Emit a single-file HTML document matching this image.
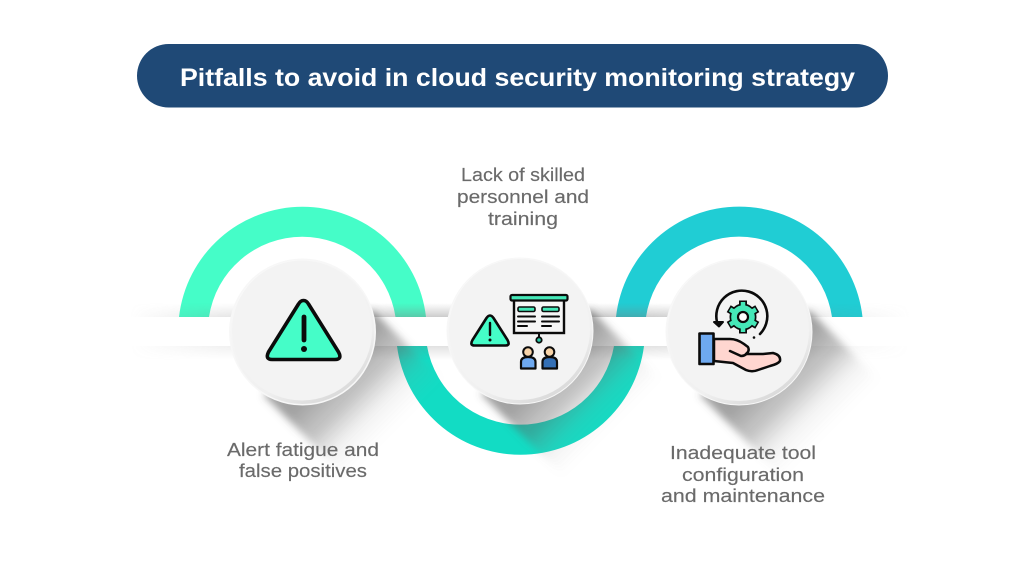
<!DOCTYPE html>
<html><head><meta charset="utf-8"><style>
html,body{margin:0;padding:0;background:#fff;width:1024px;height:572px;overflow:hidden}
svg{display:block}
text{font-family:"Liberation Sans",sans-serif}
.l{font-size:18px;fill:#6a6a6a;text-anchor:middle;stroke:#6a6a6a;stroke-width:.15}
</style></head><body>
<svg width="1024" height="572" viewBox="0 0 1024 572" xmlns="http://www.w3.org/2000/svg">
<defs>
<linearGradient id="ls" gradientUnits="userSpaceOnUse" x1="35" y1="35" x2="94" y2="94">
<stop offset="0" stop-color="#555" stop-opacity=".55"/><stop offset=".4" stop-color="#666" stop-opacity=".36"/><stop offset=".7" stop-color="#888" stop-opacity=".1"/><stop offset="1" stop-color="#999" stop-opacity="0"/></linearGradient>
<linearGradient id="up" x1="0" y1="0" x2="0" y2="1"><stop offset="0" stop-color="#888" stop-opacity="0"/><stop offset="1" stop-color="#777" stop-opacity=".38"/></linearGradient>
<linearGradient id="dn" x1="0" y1="0" x2="0" y2="1"><stop offset="0" stop-color="#777" stop-opacity=".22"/><stop offset="1" stop-color="#888" stop-opacity="0"/></linearGradient>
<linearGradient id="fade" gradientUnits="userSpaceOnUse" x1="130" y1="0" x2="910" y2="0">
<stop offset="0" stop-color="#000"/><stop offset=".12" stop-color="#777"/><stop offset=".35" stop-color="#fff"/><stop offset=".65" stop-color="#fff"/><stop offset=".85" stop-color="#666"/><stop offset="1" stop-color="#000"/></linearGradient>
<mask id="m" maskUnits="userSpaceOnUse" x="0" y="290" width="1024" height="80"><rect x="0" y="290" width="1024" height="80" fill="url(#fade)"/></mask>
<filter id="b" x="-30%" y="-30%" width="160%" height="160%"><feGaussianBlur stdDeviation="4"/></filter>
<linearGradient id="rim" x1="0.2" y1="0" x2="0.8" y2="1"><stop offset="0" stop-color="#fafafa"/><stop offset=".7" stop-color="#f0f0f0"/><stop offset="1" stop-color="#d4d4d4"/></linearGradient>
</defs>

<!-- title -->
<rect x="137" y="44" width="751" height="63.500" rx="31.700" fill="#1f4976"/>
<text x="180" y="86" font-size="25" font-weight="700" fill="#fff" textLength="675" lengthAdjust="spacingAndGlyphs">Pitfalls to avoid in cloud security monitoring strategy</text>

<!-- arcs -->
<path d="M179 317 A124.300 124.300 0 0 1 426 317 L395.500 317 A94.300 94.300 0 0 0 209 317 Z" fill="#45fdc8"/>
<path d="M616 317 A124 124 0 0 1 862.500 317 L832 317 A94 94 0 0 0 646 317 Z" fill="#20cdd4"/>
<path d="M397 346 A124.500 124.500 0 0 0 644 346 L614 346 A94.900 94.900 0 0 1 427 346 Z" fill="#12dcc4"/>

<!-- band -->
<rect x="0" y="317" width="1024" height="29" fill="#fff"/>
<g mask="url(#m)">
<rect x="130" y="303" width="780" height="14" fill="url(#up)"/>
<rect x="130" y="346" width="780" height="14" fill="url(#dn)"/>
</g>

<!-- long shadows -->
<g filter="url(#b)">
<polygon transform="translate(302.500 332)" points="70,-22 -39,63 56,158 165,73" fill="url(#ls)"/>
<polygon transform="translate(520 331)" points="70,-22 -39,63 56,158 165,73" fill="url(#ls)"/>
<polygon transform="translate(739 332)" points="70,-22 -39,63 56,158 165,73" fill="url(#ls)"/>
</g>

<!-- circles -->
<g>
<circle cx="302.500" cy="332" r="73.500" fill="#f7f7f7"/>
<circle cx="302.500" cy="332" r="72" fill="url(#rim)"/>
<circle cx="302" cy="330.500" r="70" fill="#f3f3f3"/>
<circle cx="520" cy="331" r="73.500" fill="#f7f7f7"/>
<circle cx="520" cy="331" r="72.500" fill="url(#rim)"/>
<circle cx="519.500" cy="329.500" r="70.500" fill="#f3f3f3"/>
<circle cx="739" cy="332" r="73.500" fill="#f7f7f7"/>
<circle cx="739" cy="332" r="72.500" fill="url(#rim)"/>
<circle cx="738.500" cy="330.500" r="70.500" fill="#f3f3f3"/>
</g>

<!-- icon 1 -->
<path d="M303.500 300.500 Q306.500 300.500 308.500 304 L338.500 352 Q342.500 359.500 335 359.500 L272 359.500 Q265 359.500 268.500 352 L298.500 304 Q300.500 300.500 303.500 300.500 Z" fill="#45fdc8" stroke="#0b0b0b" stroke-width="3.600" stroke-linejoin="round"/>
<line x1="304" y1="317" x2="304" y2="340" stroke="#0b0b0b" stroke-width="4.800" stroke-linecap="round"/>
<circle cx="304" cy="349" r="3" fill="#0b0b0b"/>

<!-- icon 2 -->
<path d="M490 315.500 Q491.800 315.500 493.500 318 L507.500 340 Q510.500 345.500 505.500 345.500 L474.500 345.500 Q469.500 345.500 472.500 340 L486.500 318 Q488.200 315.500 490 315.500 Z" fill="#45fdc8" stroke="#0b0b0b" stroke-width="2.600" stroke-linejoin="round"/>
<line x1="490" y1="323" x2="490" y2="335" stroke="#0b0b0b" stroke-width="2.400" stroke-linecap="round"/>
<circle cx="490" cy="340" r="1.500" fill="#0b0b0b"/>
<rect x="514" y="300" width="50" height="33" fill="#f6f6f6" stroke="#0b0b0b" stroke-width="2.400"/>
<rect x="510.500" y="295" width="57" height="5.500" rx="1.500" fill="#45e8b8" stroke="#0b0b0b" stroke-width="2.200"/>
<rect x="518" y="307" width="17" height="4.500" rx="1.500" fill="#45e8b8" stroke="#0b0b0b" stroke-width="1.600"/>
<rect x="542" y="307" width="17" height="4.500" rx="1.500" fill="#45e8b8" stroke="#0b0b0b" stroke-width="1.600"/>
<g stroke="#0b0b0b" stroke-width="2" stroke-linecap="round">
<line x1="518" y1="316.500" x2="535" y2="316.500"/><line x1="518" y1="321.500" x2="535" y2="321.500"/><line x1="518" y1="326" x2="527" y2="326"/>
<line x1="542" y1="316.500" x2="559" y2="316.500"/><line x1="542" y1="321.500" x2="559" y2="321.500"/><line x1="542" y1="326" x2="551" y2="326"/>
<line x1="539" y1="333" x2="539" y2="337"/></g>
<circle cx="539" cy="340" r="2.700" fill="#2dc9a8" stroke="#0b0b0b" stroke-width="1.800"/>
<path d="M521 368.500 V362 Q521 357 528 357 Q535.500 357 535.500 362 V368.500 Z" fill="#6ea9f0" stroke="#0b0b0b" stroke-width="2.200" stroke-linejoin="round"/>
<circle cx="528" cy="352" r="4.800" fill="#f7d3a8" stroke="#0b0b0b" stroke-width="2"/>
<path d="M542.500 368.500 V362 Q542.500 357 549.500 357 Q557 357 557 362 V368.500 Z" fill="#336fb5" stroke="#0b0b0b" stroke-width="2.200" stroke-linejoin="round"/>
<circle cx="549.500" cy="352" r="4.800" fill="#f7d3a8" stroke="#0b0b0b" stroke-width="2"/>

<!-- icon 3 -->
<path d="M717 322 A25.500 25.500 0 1 1 760 334" fill="none" stroke="#0b0b0b" stroke-width="2.600" stroke-linecap="round"/>
<path d="M714 322 L723 322 L719 326.500 Z" fill="#0b0b0b" stroke="#0b0b0b" stroke-width="2" stroke-linejoin="round"/>
<circle cx="754" cy="337.500" r="1.300" fill="#0b0b0b"/>
<g stroke="#0b0b0b" stroke-width="8"><line x1="743" y1="300.500" x2="743" y2="333.500"/><line x1="728.700" y1="308.700" x2="757.300" y2="325.300"/><line x1="757.300" y1="308.700" x2="728.700" y2="325.300"/></g>
<circle cx="743" cy="317" r="13.500" fill="#0b0b0b"/>
<g stroke="#45e8b8" stroke-width="4.500"><line x1="743" y1="302" x2="743" y2="332"/><line x1="730" y1="309.500" x2="756" y2="324.500"/><line x1="756" y1="309.500" x2="730" y2="324.500"/></g>
<circle cx="743" cy="317" r="11.800" fill="#45e8b8"/>
<circle cx="743" cy="317" r="5" fill="#fff" stroke="#0b0b0b" stroke-width="2.200"/>
<path d="M714 339 L730 339 Q737 339 744 344 L748 347 Q750 351 746 354 L763 354 L773 353 Q781 355 780 361 Q778 364 770 366 L758 370 Q752 372.500 746 370 L733 363 L714 361 Z" fill="#ffd6d0" stroke="#0b0b0b" stroke-width="2.500" stroke-linejoin="round"/>
<path d="M730 351 L741 356 Q745 356 747 353" fill="none" stroke="#0b0b0b" stroke-width="2.500" stroke-linecap="round"/>
<rect x="699.500" y="333.500" width="14" height="30.500" fill="#6ea9f0" stroke="#0b0b0b" stroke-width="2.600" stroke-linejoin="round"/>

<!-- labels -->
<text class="l" x="523" y="181" textLength="124" lengthAdjust="spacingAndGlyphs">Lack of skilled</text>
<text class="l" x="523" y="203" textLength="132" lengthAdjust="spacingAndGlyphs">personnel and</text>
<text class="l" x="523" y="225" textLength="70" lengthAdjust="spacingAndGlyphs">training</text>
<text class="l" x="303" y="456" textLength="152" lengthAdjust="spacingAndGlyphs">Alert fatigue and</text>
<text class="l" x="303" y="477" textLength="128" lengthAdjust="spacingAndGlyphs">false positives</text>
<text class="l" x="743" y="459" textLength="146" lengthAdjust="spacingAndGlyphs">Inadequate tool</text>
<text class="l" x="743" y="481" textLength="122" lengthAdjust="spacingAndGlyphs">configuration</text>
<text class="l" x="743" y="502" textLength="164" lengthAdjust="spacingAndGlyphs">and maintenance</text>
</svg>
</body></html>
